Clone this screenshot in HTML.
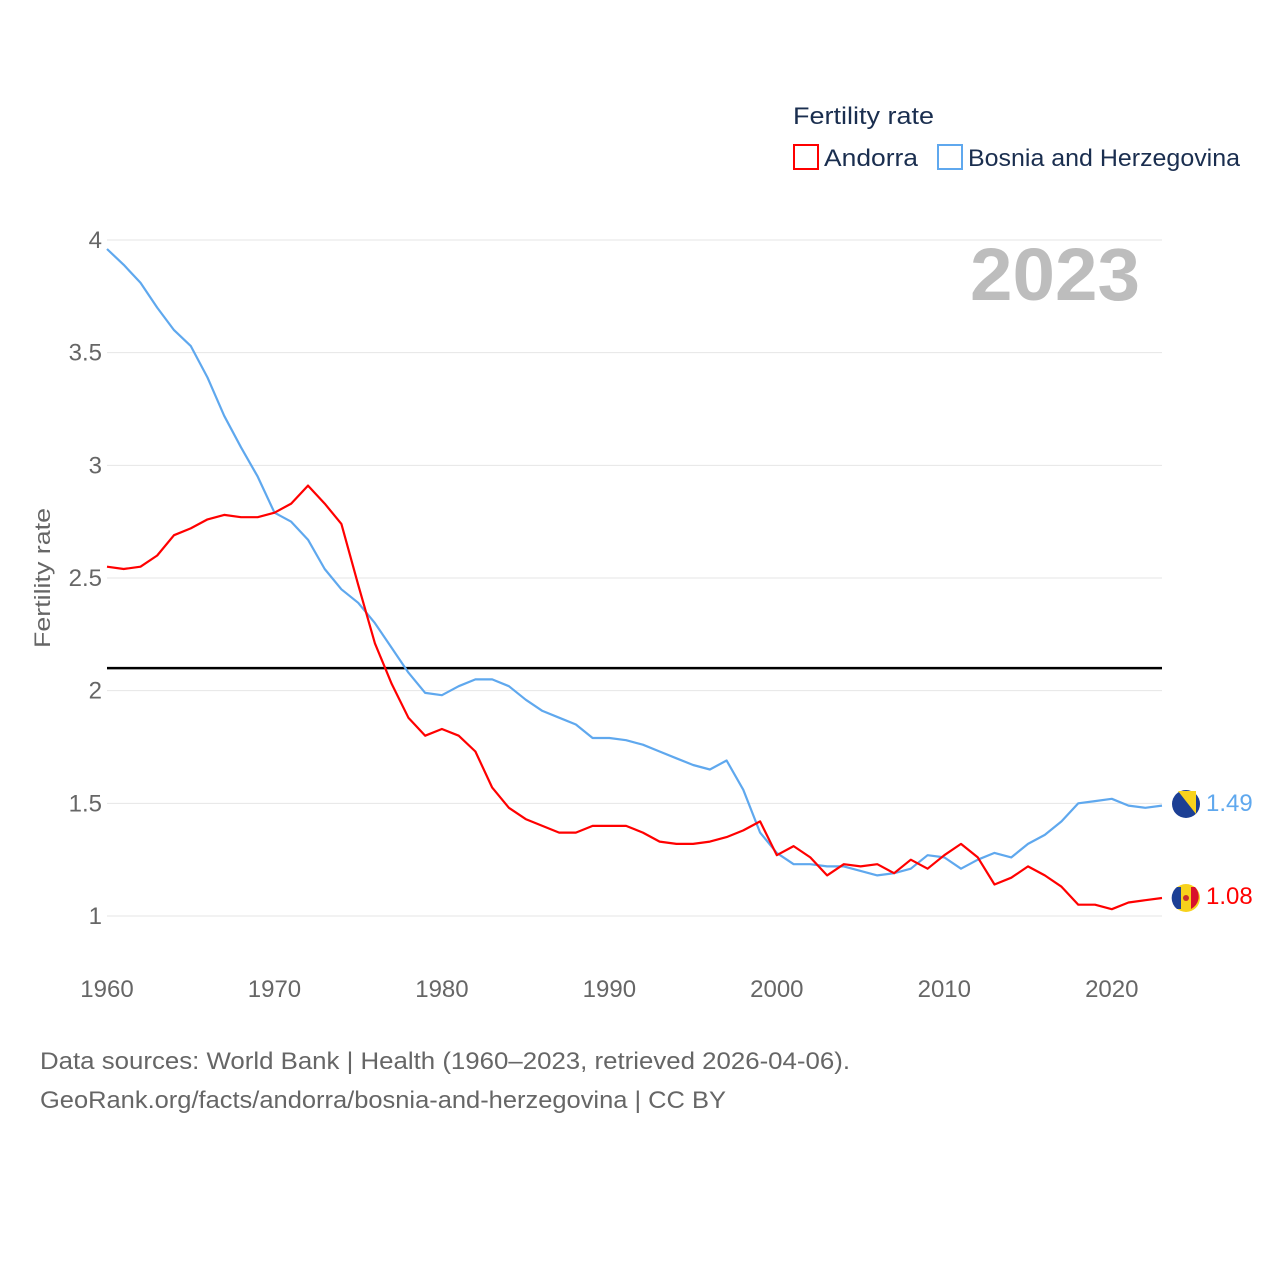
<!DOCTYPE html>
<html><head><meta charset="utf-8"><style>
body{margin:0;background:#fff;}
svg text{font-family:"Liberation Sans",sans-serif;}
</style></head><body>
<svg id="chart" width="1280" height="1280" viewBox="0 0 1280 1280" xmlns="http://www.w3.org/2000/svg">
<rect width="1280" height="1280" fill="#fff"/>
<g id="grid"></g>
<g id="yticks"></g>
<g id="xticks"></g>
<text x="1140" y="300" text-anchor="end" font-size="74" font-weight="bold" fill="#bdbdbd" textLength="170" lengthAdjust="spacingAndGlyphs">2023</text>
<text transform="translate(50,578) rotate(-90)" text-anchor="middle" font-size="22" fill="#666" textLength="140" lengthAdjust="spacingAndGlyphs">Fertility rate</text>
<line id="refline" stroke="#000" stroke-width="2.5"/>
<g id="series"></g>
<g>
<text x="793" y="124" font-size="24" fill="#1a2e4f" textLength="141" lengthAdjust="spacingAndGlyphs">Fertility rate</text>
<rect x="794" y="145" width="24" height="24" fill="none" stroke="#f00" stroke-width="2"/>
<text x="824" y="166" font-size="24" fill="#1a2e4f" textLength="94" lengthAdjust="spacingAndGlyphs">Andorra</text>
<rect x="938" y="145" width="24" height="24" fill="none" stroke="#5fa8ee" stroke-width="2"/>
<text x="968" y="166" font-size="24" fill="#1a2e4f" textLength="272" lengthAdjust="spacingAndGlyphs">Bosnia and Herzegovina</text>
</g>
<g>
<circle cx="1186" cy="804" r="14" fill="#1c3f94"/>
<path d="M1178 791 L1196 791 L1196 814 Z" fill="#f8d21c"/>
</g>
<text x="1206" y="811" font-size="24" fill="#5fa8ee">1.49</text>
<g>
<circle cx="1186" cy="898" r="14" fill="#f7d21c"/>
<path d="M1177 887 A14 14 0 0 0 1177 909 L1181 909 L1181 887 Z" fill="#1c3f94"/>
<path d="M1191 887 L1191 909 A14 14 0 0 0 1195 887 Z" fill="#d8102c"/>
<circle cx="1186" cy="898" r="3" fill="#c7302a"/>
</g>
<text x="1206" y="904" font-size="24" fill="#f00">1.08</text>
<text x="40" y="1069" font-size="24" fill="#666" textLength="810" lengthAdjust="spacingAndGlyphs">Data sources: World Bank | Health (1960–2023, retrieved 2026-04-06).</text>
<text x="40" y="1108" font-size="24" fill="#666" textLength="686" lengthAdjust="spacingAndGlyphs">GeoRank.org/facts/andorra/bosnia-and-herzegovina | CC BY</text>
</svg>
<script>
const startYear = 1960;
const andorra = [2.55,2.54,2.55,2.60,2.69,2.72,2.76,2.78,2.77,2.77,2.79,2.83,2.91,2.83,2.74,2.47,2.21,2.03,1.88,1.80,1.83,1.80,1.73,1.57,1.48,1.43,1.40,1.37,1.37,1.40,1.40,1.40,1.37,1.33,1.32,1.32,1.33,1.35,1.38,1.42,1.27,1.31,1.26,1.18,1.23,1.22,1.23,1.19,1.25,1.21,1.27,1.32,1.26,1.14,1.17,1.22,1.18,1.13,1.05,1.05,1.03,1.06,1.07,1.08];
const bosnia = [3.96,3.89,3.81,3.70,3.60,3.53,3.39,3.22,3.08,2.95,2.79,2.75,2.67,2.54,2.45,2.39,2.30,2.19,2.08,1.99,1.98,2.02,2.05,2.05,2.02,1.96,1.91,1.88,1.85,1.79,1.79,1.78,1.76,1.73,1.70,1.67,1.65,1.69,1.56,1.37,1.28,1.23,1.23,1.22,1.22,1.20,1.18,1.19,1.21,1.27,1.26,1.21,1.25,1.28,1.26,1.32,1.36,1.42,1.50,1.51,1.52,1.49,1.48,1.49];
const yTicks = [1,1.5,2,2.5,3,3.5,4];
const yTickLabels = ["1","1.5","2","2.5","3","3.5","4"];
const xTicks = [1960,1970,1980,1990,2000,2010,2020];
const refValue = 2.1;

const X0=107, X1=1162, Y0=916, Y1=240;
const xs = yr => X0 + (yr-1960)*(X1-X0)/63;
const ys = v => Y0 - (v-1)*(Y0-Y1)/3;
const NS="http://www.w3.org/2000/svg";
function mk(tag, attrs, parent){const e=document.createElementNS(NS,tag);for(const k in attrs)e.setAttribute(k,attrs[k]);parent.appendChild(e);return e;}
const grid=document.getElementById('grid'), yt=document.getElementById('yticks'), xt=document.getElementById('xticks');
yTicks.forEach((v,i)=>{
  const l=mk('line',{x1:X0,x2:X1,y1:ys(v),y2:ys(v),stroke:'#e6e6e6','stroke-width':1},grid);
  
  
  const t=mk('text',{x:102,y:ys(v)+8,'text-anchor':'end','font-size':24,fill:'#666'},yt);
  t.textContent=yTickLabels[i];
  
  
});
xTicks.forEach(yr=>{
  const t=mk('text',{x:xs(yr),y:997,'text-anchor':'middle','font-size':24,fill:'#666'},xt);
  t.textContent=yr;
  
  
});
const rl=document.getElementById('refline');
rl.setAttribute('x1',X0);rl.setAttribute('x2',X1);rl.setAttribute('y1',ys(refValue));rl.setAttribute('y2',ys(refValue));
const sg=document.getElementById('series');
function line(data,color,name){
  const d=data.map((v,i)=>(i?'L':'M')+xs(startYear+i).toFixed(1)+' '+ys(v).toFixed(1)).join(' ');
  const p=mk('path',{d:d,fill:'none',stroke:color,'stroke-width':2.2,'stroke-linejoin':'round'},sg);
  
  
}
line(bosnia,'#5fa8ee','series-line-bosnia');
line(andorra,'#f00','series-line-andorra');
</script>
</body></html>
